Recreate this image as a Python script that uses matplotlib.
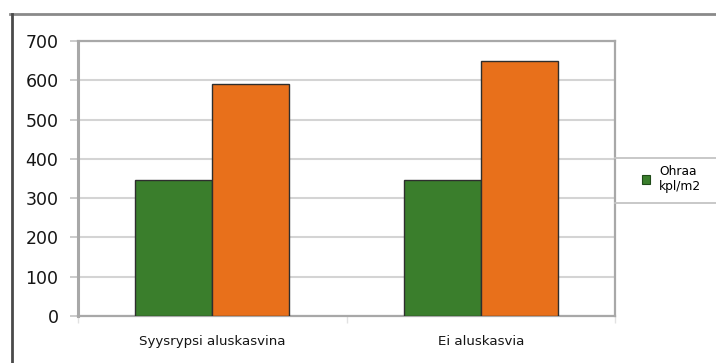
import numpy as np
import matplotlib.pyplot as plt
from matplotlib.lines import Line2D
from matplotlib.patches import Patch

# --- data ---
categories = ["Syysrypsi aluskasvina", "Ei aluskasvia"]
ohraa_kpl = [345, 345]
series2_kpl = [590, 650]
y_ticks = [0, 100, 200, 300, 400, 500, 600, 700]
legend_label = "Ohraa\nkpl/m2"
# ------------

GREEN = "#3a7e2c"
ORANGE = "#e8701b"
EDGE = "#2e2e2e"

fig = plt.figure(figsize=(7.16, 3.63), dpi=100)
W, H = 716, 363

def px(x0, y0, x1, y1):
    # pixel box (top-left origin) -> figure fraction rect
    return [x0 / W, 1 - y1 / H, (x1 - x0) / W, (y1 - y0) / H]

ax = fig.add_axes(px(78, 41, 615, 316))

x = np.arange(len(categories))
bw = 0.287
ax.bar(x - bw / 2, ohraa_kpl, width=bw, color=GREEN, edgecolor=EDGE, linewidth=1.0, zorder=3)
ax.bar(x + bw / 2, series2_kpl, width=bw, color=ORANGE, edgecolor=EDGE, linewidth=1.0, zorder=3)

ax.set_xlim(-0.5, len(categories) - 0.5)
ax.set_ylim(0, 700)
ax.set_yticks(y_ticks)
ax.set_yticklabels([str(v) for v in y_ticks], fontsize=12.5, color="#151515")
ax.set_xticks(x)
ax.set_xticklabels(categories, fontsize=9.6, color="#151515")
ax.tick_params(axis="x", length=0, pad=14)
ax.tick_params(axis="y", length=6, width=1.3, color="#c8c8c8", pad=8)
ax.set_xticks(np.arange(len(categories) + 1) - 0.5, minor=True)
ax.tick_params(axis="x", which="minor", length=5, width=1, color="#e2e2e2")

ax.grid(axis="y", color="#d4d4d4", linewidth=1.5, zorder=0)
for side in ["left", "top", "right", "bottom"]:
    ax.spines[side].set_color("#a8a8a8")
ax.spines["left"].set_linewidth(2.2)
ax.spines["top"].set_linewidth(1.6)
ax.spines["right"].set_linewidth(1.6)
ax.spines["bottom"].set_linewidth(1.6)

# outer chart frame (top and left edges)
fig.add_artist(Line2D([10 / W, 1], [1 - 14 / H, 1 - 14 / H], color="#8a8a8a", linewidth=2.0))
fig.add_artist(Line2D([12 / W, 12 / W], [1 - 14 / H, 0], color="#4a4a4a", linewidth=2.0))

# legend box edges
for yy in (158, 203):
    fig.add_artist(Line2D([615 / W, 1], [1 - yy / H, 1 - yy / H], color="#c4c4c4", linewidth=1.3))

handles = [Patch(facecolor=GREEN, edgecolor="#1f4a18", linewidth=0.8)]
fig.legend(handles, [legend_label], loc="center left",
           bbox_to_anchor=(637 / W, 1 - 179 / H), frameon=False,
           fontsize=8.8, handlelength=0.7, handleheight=0.7, handletextpad=0.7,
           borderaxespad=0, labelspacing=0.2)

fig.savefig("out.png", dpi=100)
